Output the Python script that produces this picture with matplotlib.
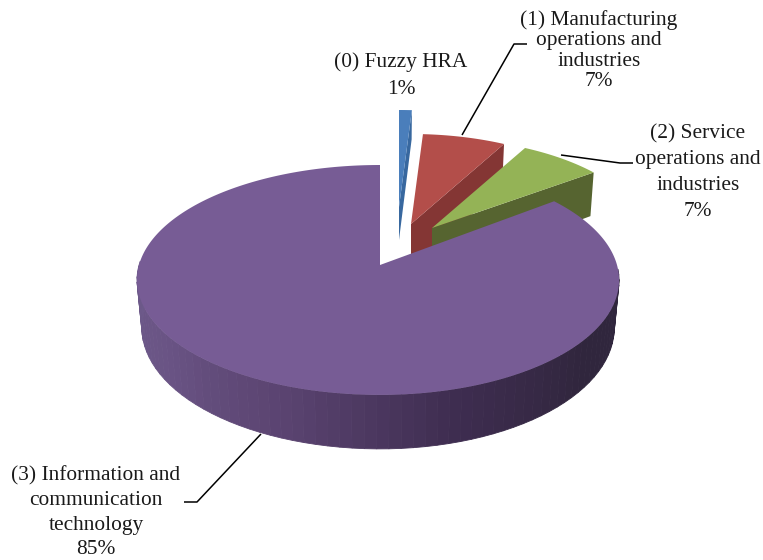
import numpy as np
import matplotlib
matplotlib.use("Agg")
import matplotlib.pyplot as plt
from matplotlib.patches import Polygon
from matplotlib.colors import LinearSegmentedColormap

# --- data ---
categories = ["(0) Fuzzy HRA",
              "(1) Manufacturing\noperations and\nindustries",
              "(2) Service\noperations and\nindustries",
              "(3) Information and\ncommunication\ntechnology"]
values = [1, 7, 7, 85]

# --- per-slice styling (pixel geometry of the exploded 3D pie) ---
apex = [(399, 207), (411, 224), (432, 228), (380, 265)]
scale = [0.97, 0.90, 0.90, 1.0]
depth = [33, 47, 47, 47]
shift_x = [0, 0, 0, -2]
start_tweak_deg = [0, 0, 0, -1.5]
top_col = ["#4a7ebb", "#b34e4a", "#94b356", "#775c95"]
side_col = ["#38689f", "#843634", "#566430", "#5c4570"]
label_xy = [(401, 62, 27), (599, 20, 20.5), (698, 133.5, 26), (96, 476, 24.6)]
leaders = [None,
           [(462, 135), (514, 44), (527, 44)],
           [(561, 155), (620, 163), (633, 163)],
           [(261, 434), (197, 502), (184, 502)]]

K_X, K_Y, PERSP = 239.0, 113.0, 0.13
BOTTOM_SHRINK = 0.98

fig = plt.figure(figsize=(7.63, 5.6), dpi=100, facecolor="white")
ax = fig.add_axes([0, 0, 1, 1])
ax.set_xlim(0, 763)
ax.set_ylim(560, 0)
ax.axis("off")


def project(theta, i):
    den = 1 + PERSP * np.cos(theta)
    dx = K_X * np.sin(theta) / den * scale[i] + shift_x[i] * abs(np.sin(theta))
    dy = -K_Y * np.cos(theta) / den * scale[i]
    return dx, dy, den


def top_pt(theta, i):
    dx, dy, _ = project(theta, i)
    return apex[i][0] + dx, apex[i][1] + dy


def bottom_pt(theta, i):
    dx, dy, den = project(theta, i)
    return apex[i][0] + BOTTOM_SHRINK * dx, apex[i][1] + dy + depth[i] / den


edges = np.deg2rad(np.concatenate([[0], np.cumsum(values)]) / sum(values) * 360)
side_cmap = LinearSegmentedColormap.from_list(
    "side", ["#30263d", "#30263d", "#3e2d50", "#5a4370", "#6a5485", "#6d5a8a"])

# slices 0, 1, 2: far slices, cut face on their right side
for i in range(3):
    t0, t1 = edges[i], edges[i + 1]
    ap = apex[i]
    apb = (ap[0], ap[1] + depth[i])
    ax.add_patch(Polygon([ap, top_pt(t1, i), bottom_pt(t1, i), apb],
                         closed=True, fc=side_col[i], ec="none", zorder=1 + i))
    ts = np.linspace(t0, t1, 30)
    pts = [ap] + [top_pt(t, i) for t in ts]
    ax.add_patch(Polygon(pts, closed=True, fc=top_col[i], ec="none", zorder=1 + i))

# purple slice: curved wall then top
i = 3
wall = np.linspace(np.deg2rad(92), np.deg2rad(272), 70)
for a, b in zip(wall[:-1], wall[1:]):
    f = (0.5 * (a + b) - wall[0]) / (wall[-1] - wall[0])
    q = [top_pt(a, i), top_pt(b, i), bottom_pt(b, i), bottom_pt(a, i)]
    c = side_cmap(f)
    ax.add_patch(Polygon(q, closed=True, fc=c, ec=c, lw=0.6, zorder=5))
ts = np.linspace(edges[3] + np.deg2rad(start_tweak_deg[3]), edges[4], 300)
ax.add_patch(Polygon([apex[i]] + [top_pt(t, i) for t in ts], closed=True,
                     fc=top_col[i], ec="none", zorder=6))

# leader lines
for pts in leaders:
    if pts:
        xs, ys = zip(*pts)
        ax.plot(xs, ys, color="black", lw=1.1, zorder=7, solid_capstyle="butt")

# labels
for cat, v, (x, y, step) in zip(categories, values, label_xy):
    lines = cat.split("\n") + [f"{v}%"]
    for k, line in enumerate(lines):
        ax.text(x, y + k * step, line, ha="center", va="center",
                family="Liberation Serif", fontsize=15.4, color="#1a1a1a", zorder=8)

fig.savefig("out.png", dpi=100)
